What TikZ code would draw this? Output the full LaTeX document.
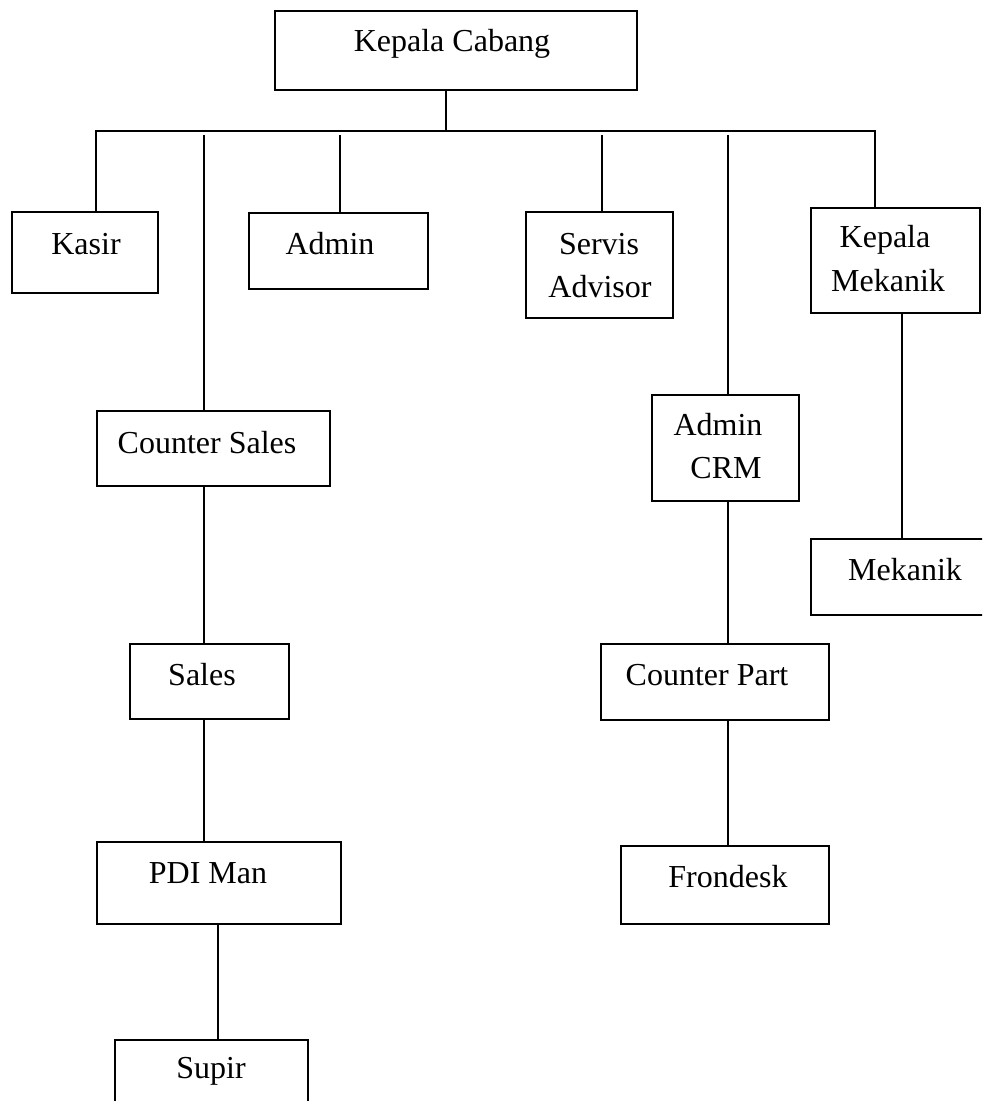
\documentclass[tikz,border=0pt]{standalone}
\usepackage{fontspec}
\setmainfont{Liberation Serif}

\begin{document}
\begin{tikzpicture}[x=0.5pt, y=-0.5pt,
    box/.style={draw, line width=1pt, inner sep=0pt},
    lbl/.style={anchor=base, inner sep=0pt, font=\fontsize{16}{21.5}\selectfont},
    link/.style={line width=0.9pt}]
   \useasboundingbox (0,0) rectangle (982,1101);
   \clip (0,0) rectangle (982,1101);

   % pimpinan
   \node[box, minimum width=181pt, minimum height=39.5pt] (kc) at (456,50.5) {};
   \node[lbl] (kcT) at (452,52) {Kepala Cabang};

   % baris pertama
   \node[box, minimum width=73pt, minimum height=40.5pt] (kasir) at (85,252.5) {};
   \node[lbl] (kasirT) at (86,255) {Kasir};
   \node[box, minimum width=89.5pt, minimum height=38pt] (admin) at (338.5,251) {};
   \node[lbl] (adminT) at (330,255) {Admin};
   \node[box, minimum width=73.5pt, minimum height=53pt] (servis) at (599.5,265) {};
   \node[lbl] (servisT) at (599,255) {Servis};
   \node[lbl] (servisB) at (600,298) {Advisor};
   \node[box, minimum width=84.5pt, minimum height=52.5pt] (kmek) at (895.5,260.5) {};
   \node[lbl] (kmekT) at (885,248) {Kepala};
   \node[lbl] (kmekB) at (888,292) {Mekanik};

   % cabang kiri (penjualan)
   \node[box, minimum width=116.5pt, minimum height=37.5pt] (csales) at (213.5,448.5) {};
   \node[lbl] (csalesT) at (207,453) {Counter Sales};
   \node[box, minimum width=79.5pt, minimum height=37.5pt] (sales) at (209.5,681.5) {};
   \node[lbl] (salesT) at (202,685) {Sales};
   \node[box, minimum width=122pt, minimum height=41pt] (pdi) at (219,883) {};
   \node[lbl] (pdiT) at (208,883) {PDI Man};
   \node[box, minimum width=96.5pt, minimum height=40pt] (supir) at (211.5,1080) {};
   \node[lbl] (supirT) at (211,1078) {Supir};

   % cabang kanan (servis dan part)
   \node[box, minimum width=73.5pt, minimum height=53pt] (crm) at (725.5,448) {};
   \node[lbl] (crmT) at (718,435) {Admin};
   \node[lbl] (crmB) at (726,478) {CRM};
   \node[box, minimum width=114pt, minimum height=38pt] (cpart) at (715,682) {};
   \node[lbl] (cpartT) at (707,685) {Counter Part};
   \node[box, minimum width=104pt, minimum height=39pt] (fron) at (725,885) {};
   \node[lbl] (fronT) at (728,887) {Frondesk};
   \node[box, minimum width=94.5pt, minimum height=38pt] (mek) at (905.5,577) {};
   \node[lbl] (mekT) at (905,580) {Mekanik};

   % titik garis
   \coordinate (bar) at (446,131);
   \coordinate (barL) at (96,131);
   \coordinate (barR) at (875,131);
   \coordinate (dCS) at (204,135);
   \coordinate (dAd) at (340,135);
   \coordinate (dSA) at (602,135);
   \coordinate (dCRM) at (728,135);
   \coordinate (xSp) at (218,0);
   \coordinate (xMk) at (902,0);

   % garis penghubung
   \draw[link] (kc.south -| bar) -- (bar);
   \draw[link] (barL |- kasir.north) -- (barL) -- (barR) -- (barR |- kmek.north);
   \draw[link] (dAd) -- (admin.north -| dAd);
   \draw[link] (dSA) -- (servis.north -| dSA);
   \draw[link] (dCS) -- (csales.north -| dCS);
   \draw[link] (csales.south -| dCS) -- (sales.north -| dCS);
   \draw[link] (sales.south -| dCS) -- (pdi.north -| dCS);
   \draw[link] (pdi.south -| xSp) -- (supir.north -| xSp);
   \draw[link] (dCRM) -- (crm.north -| dCRM);
   \draw[link] (crm.south -| dCRM) -- (cpart.north -| dCRM);
   \draw[link] (cpart.south -| dCRM) -- (fron.north -| dCRM);
   \draw[link] (kmek.south -| xMk) -- (mek.north -| xMk);
\end{tikzpicture}
\end{document}
